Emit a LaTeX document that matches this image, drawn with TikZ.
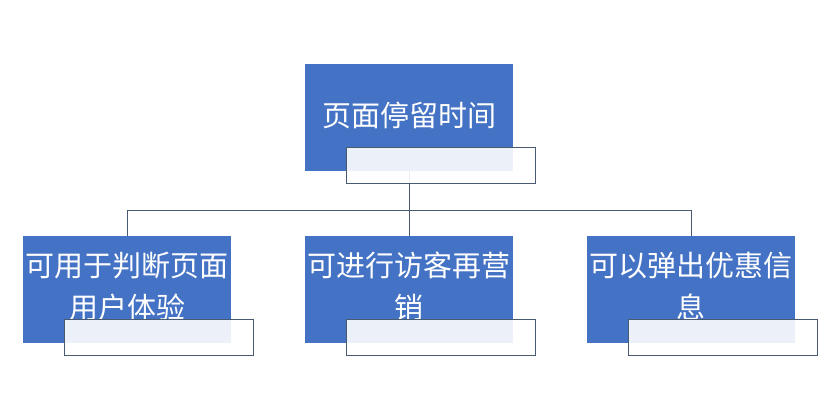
\documentclass[tikz,border=0pt]{standalone}
\usepackage{fontspec}
\newfontfamily\cjk{Noto Sans CJK SC}
\definecolor{boxblue}{RGB}{68,114,196}
\definecolor{tabline}{RGB}{72,90,112}
\newcommand{\twolines}[2]{\raisebox{5pt}{\begin{tabular}{@{}c@{}}#1\\#2\end{tabular}}}
\tikzset{
  topic/.style={fill=boxblue,text=white,align=center,inner sep=0pt,
    minimum width=208pt,minimum height=107pt,
    font=\cjk\fontsize{29}{42}\selectfont},
  tab/.style={draw=tabline,fill=white,fill opacity=0.9,line width=0.7pt,
    minimum width=189pt,minimum height=36pt},
  link/.style={draw=tabline,line width=0.7pt}
}

\begin{document}
\begin{tikzpicture}[x=1pt,y=1pt]
  \useasboundingbox[fill=white] (0,0) rectangle (825,419);

  \node[topic] (root) at (409,301.5) {\raisebox{7pt}{页面停留时间}};

  \node[topic] (c1) at (127.2,129.5) {\twolines{可用于判断页面}{用户体验}};
  \node[topic] (c2) at (409,129.5) {\twolines{可进行访客再营}{销}};
  \node[topic] (c3) at (691.3,129.5) {\twolines{可以弹出优惠信}{息}};

  \coordinate (fork) at (409,209);
  \draw[link] (root.south) -- (fork);
  \foreach \c in {c1,c2,c3} {
    \draw[link] (fork) -| (\c.north);
  }

  \foreach \n in {root,c1,c2,c3} {
    \node[tab] at ([shift={(31.5,-48)}]\n.center) {};
  }
\end{tikzpicture}
\end{document}
